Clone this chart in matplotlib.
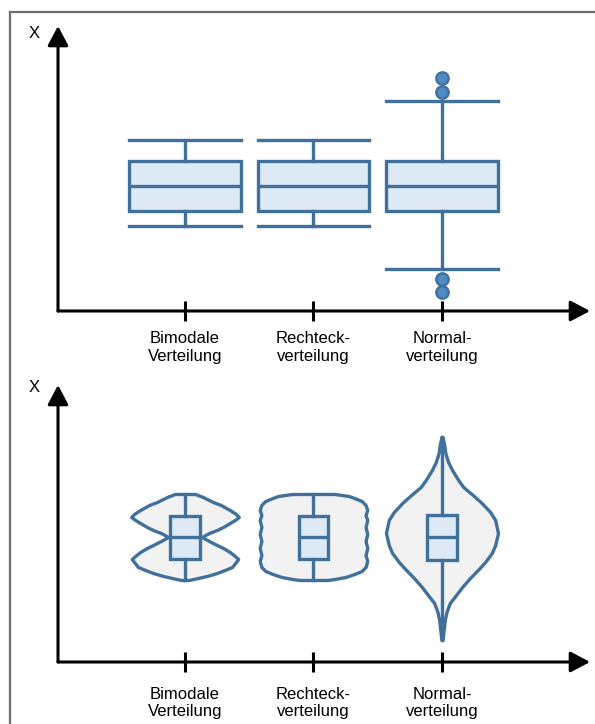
import matplotlib.pyplot as plt
from matplotlib.lines import Line2D

plt.rcParams['font.family'] = ['Liberation Sans', 'DejaVu Sans']

# Kategorien
categories = ['Bimodale\nVerteilung', 'Rechteck-\nverteilung', 'Normal-\nverteilung']
positions = [1, 2, 3]

# Boxplots (oben)
whis_lo = [8.5, 8.5, 4.2]
q1 = [10.0, 10.0, 10.0]
med = [12.5, 12.5, 12.5]
q3 = [15.0, 15.0, 15.0]
whis_hi = [17.1, 17.1, 21.0]
fliers = [[], [], [23.3, 21.9, 3.2, 1.9]]

# Violinen (unten): Werte und relative Dichte
bimodal_y = [16.8, 16.5, 16.0, 15.7, 15.2, 14.8, 14.5, 14.2, 13.9, 13.5, 13.2, 12.9,
             12.5, 12.1, 11.7, 11.4, 11.0, 10.6, 10.3, 10.0, 9.5, 9.2, 8.9, 8.6, 8.4, 8.2]
bimodal_d = [0.18, 0.32, 0.50, 0.64, 0.80, 0.91, 0.96, 0.89, 0.80, 0.68, 0.57, 0.43,
             0.30, 0.43, 0.57, 0.68, 0.80, 0.89, 0.95, 0.91, 0.84, 0.71, 0.57, 0.39, 0.23, 0.07]

uniform_y = [16.8, 16.6, 16.4, 16.1, 15.7, 15.2, 14.7, 14.2, 13.5, 12.8, 12.1, 11.4,
             10.7, 10.1, 9.5, 9.1, 8.8, 8.5, 8.3, 8.2]
uniform_d = [0.38, 0.63, 0.73, 0.86, 0.93, 0.96, 0.93, 0.96, 0.93, 0.96, 0.93, 0.96,
             0.93, 0.96, 0.93, 0.86, 0.73, 0.57, 0.38, 0.25]

normal_y = [22.5, 21.7, 20.9, 20.0, 19.2, 18.2, 17.5, 16.7, 15.9, 15.0, 14.2, 12.9,
            11.7, 10.9, 10.0, 9.2, 8.4, 7.5, 6.7, 5.9, 5.0, 4.2, 3.2, 2.2]
normal_d = [0.01, 0.04, 0.06, 0.11, 0.18, 0.29, 0.38, 0.55, 0.71, 0.86, 0.95, 1.00,
            0.95, 0.89, 0.77, 0.64, 0.50, 0.36, 0.25, 0.14, 0.08, 0.05, 0.03, 0.01]

violin_q1 = [10.3, 10.3, 10.2]
violin_med = [12.5, 12.5, 12.5]
violin_q3 = [14.6, 14.6, 14.7]

BLUE = '#41709b'
LIGHT = '#ddeaf6'
GREY = '#f2f2f2'
LW = 2.4

fig = plt.figure(figsize=(5.95, 7.24), dpi=100)
W, H = 595, 724

ax1 = fig.add_axes([58 / W, 413 / H, 532 / W, 285 / H])
ax2 = fig.add_axes([58 / W, 62 / H, 532 / W, 277 / H])


def style_axes(ax, ytop, pad):
    for s in ax.spines.values():
        s.set_visible(False)
    ax.set_xlim(0.0117, 4.152)
    ax.set_ylim(0, ytop)
    ax.set_yticks([])
    ax.set_xticks(positions)
    ax.set_xticklabels(categories, fontsize=12)
    ax.tick_params(axis='x', direction='inout', length=14.4, width=2.2,
                   pad=pad, color='black')
    arrow = dict(arrowstyle='-|>,head_length=0.85,head_width=0.45',
                 mutation_scale=14, lw=2.2, color='black',
                 shrinkA=0, shrinkB=0)
    ax.annotate('', xy=(0, 1), xytext=(0, 0), xycoords='axes fraction',
                arrowprops=arrow, annotation_clip=False)
    ax.annotate('', xy=(1, 0), xytext=(0, 0), xycoords='axes fraction',
                arrowprops=arrow, annotation_clip=False)


# oben: Boxplots
stats = []
for i in range(3):
    stats.append(dict(whislo=whis_lo[i], q1=q1[i], med=med[i], q3=q3[i],
                      whishi=whis_hi[i], fliers=fliers[i]))
ax1.bxp(stats, positions=positions, widths=0.87, capwidths=0.87,
        patch_artist=True,
        boxprops=dict(facecolor=LIGHT, edgecolor=BLUE, linewidth=LW),
        whiskerprops=dict(color=BLUE, linewidth=LW),
        capprops=dict(color=BLUE, linewidth=LW),
        medianprops=dict(color=BLUE, linewidth=LW),
        flierprops=dict(marker='o', markerfacecolor='#4f8ac4',
                        markeredgecolor=BLUE, markersize=9,
                        markeredgewidth=1.6))
style_axes(ax1, 28.5, 7.5)

# unten: Violinen mit Boxplot
profiles = [(bimodal_y, bimodal_d), (uniform_y, uniform_d), (normal_y, normal_d)]
half = 0.436
vstats = []
for i, (ys, ds) in enumerate(profiles):
    x = positions[i]
    left = [x - d * half for d in ds]
    right = [x + d * half for d in ds]
    ax2.fill_betweenx(ys, left, right, facecolor=GREY, edgecolor=BLUE,
                      linewidth=LW, joinstyle='round', zorder=1)
    vstats.append(dict(whislo=min(ys), q1=violin_q1[i], med=violin_med[i],
                       q3=violin_q3[i], whishi=max(ys), fliers=[]))
ax2.bxp(vstats, positions=positions, widths=0.233, showcaps=False,
        patch_artist=True,
        boxprops=dict(facecolor=LIGHT, edgecolor=BLUE, linewidth=LW),
        whiskerprops=dict(color=BLUE, linewidth=LW),
        medianprops=dict(color=BLUE, linewidth=LW))
style_axes(ax2, 27.7, 10.5)

# Achsenbeschriftung
fig.text(34 / W, 1 - 34 / H, 'X', fontsize=12, ha='center', va='center')
fig.text(34 / W, 1 - 387 / H, 'X', fontsize=12, ha='center', va='center')

# Rahmen
fig.add_artist(Line2D([10 / W, 10 / W], [0, 1 - 12 / H], transform=fig.transFigure,
                      color='#6d6d6d', lw=1.6))
fig.add_artist(Line2D([10 / W, 1], [1 - 12 / H, 1 - 12 / H], transform=fig.transFigure,
                      color='#6d6d6d', lw=1.6))

fig.savefig('out.png', dpi=100)
